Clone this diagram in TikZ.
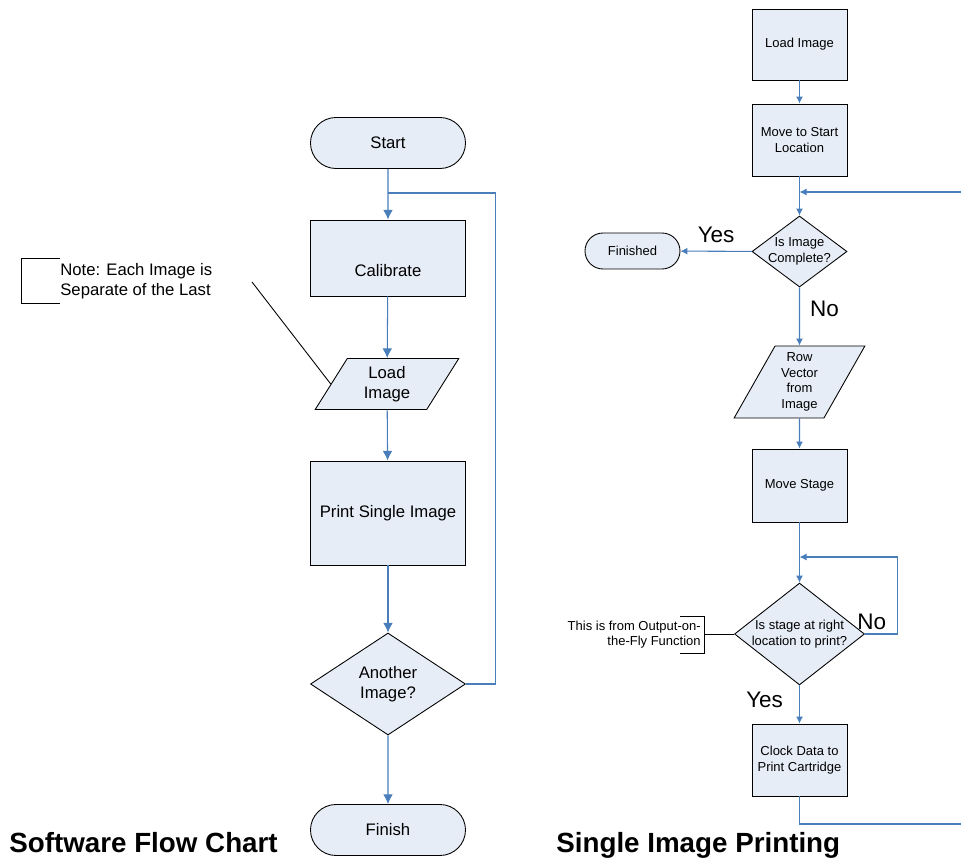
\documentclass[tikz,border=0pt]{standalone}
\usepackage{fontspec}
\setmainfont{Liberation Sans}
\usetikzlibrary{shapes.geometric,shapes.misc,arrows.meta,calc}

\definecolor{shapefill}{RGB}{231,237,247}
\definecolor{flowblue}{RGB}{74,126,187}

\newcommand{\mainsize}{\fontsize{9.5}{11.2}\selectfont}
\newcommand{\smallsize}{\fontsize{7.4}{8.8}\selectfont}
\newcommand{\answersize}{\fontsize{12.8}{14}\selectfont}
\newcommand{\titlesize}{\fontsize{15.8}{18}\selectfont\bfseries}

\begin{document}
\begin{tikzpicture}

\def\pix{0.02cm}

\tikzset{
        x=\pix, y=-\pix,
        every node/.style={font=\mainsize, align=center, inner sep=0pt},
        dims/.style 2 args={minimum width=#1*\pix, minimum height=#2*\pix},
        block/.style={draw, fill=shapefill, line width=.5pt},
        process/.style={block, rectangle},
        terminal/.style={block, rounded rectangle},
        decision/.style={block, diamond, inner sep=-3pt},
        io/.style={block, trapezium, trapezium left angle=62, trapezium right angle=118,
                trapezium stretches=true},
        small/.style={font=\smallsize},
        link/.style={draw=flowblue, line width=.6pt},
        flow/.style={link, -{Latex[length=#1,width=#1]}},
        flow/.default=5.5pt,
        bracket/.style={draw, line width=.5pt},
        answer/.style={font=\answersize},
        title/.style={font=\titlesize, anchor=base west}
}

\useasboundingbox (0,0) rectangle (961,858);

% main loop
\node[terminal, dims={155}{51}] (start) at (388,143) {Start};
\node[process, dims={155}{76}, text height=21.5pt] (calib) at (388,258) {Calibrate};
\node[io, dims={144}{51}] (load) at (387,384) {Load\\Image};
\node[process, dims={155}{104}] (print) at (388,513) {Print Single Image};
\node[decision, dims={155}{102}] (another) at (388,684) {Another\\Image?};
\node[terminal, dims={155}{51}] (finish) at (388,830) {Finish};

\coordinate (backin) at (388,193);

\draw[flow] (start) -- (calib);
\draw[flow] (calib) -- (load);
\draw[flow] (load) -- (print);
\draw[flow] (print) -- (another);
\draw[flow] (another) -- (finish);
\draw[link] (another.east) -- ++(30,0) |- (backin);

\node[anchor=west, align=left, dims={0}{44}] (note) at (60,281) {Note: Each Image is\\Separate of the Last};
\draw[bracket] (note.north west) -- ++(-39,0) |- (note.south west);
\coordinate (notetail) at (252,282);
\draw[bracket] (notetail) -- ($(load.bottom left corner)!.5!(load.top left corner)$);

% one image
\node[process, small, dims={95}{71}] (loadimg) at (799.5,44.5) {Load Image};
\node[process, small, dims={95}{72}] (movestart) at (799.5,140) {Move to Start\\Location};
\node[decision, small, dims={95}{71}] (complete) at (799.5,251.5) {Is Image\\Complete?};
\node[terminal, small, dims={95}{36}] (finished) at (632.5,251) {Finished};
\node[io, small, dims={131}{72}] (rowvec) at (799.5,382) {Row\\Vector\\from\\Image};
\node[process, small, dims={95}{73}] (movestage) at (799.5,485.5) {Move Stage};
\node[decision, small, dims={130}{98}] (stage) at (799.5,634) {Is stage at right\\location to print?};
\node[process, small, dims={95}{72}] (clock) at (799.5,760) {Clock Data to\\Print Cartridge};

\coordinate (rowloop) at (799.5,192);
\coordinate (rowedge) at (961,192);
\coordinate (stageloop) at (799.5,557);
\coordinate (outedge) at (961,824);

\draw[flow=4pt] (loadimg) -- (movestart);
\draw[flow=4pt] (movestart) -- (complete);
\draw[flow=4pt] (rowedge) -- (rowloop);
\draw[flow=4pt] (complete) -- node[answer, above=8*\pix] {Yes} (finished);
\draw[flow=4pt] (complete) -- node[answer, anchor=base west, xshift=10*\pix] {No} (rowvec);
\draw[flow=4pt] (rowvec) -- (movestage);
\draw[flow=4pt] (movestage) -- (stage);
\draw[flow=4pt] (stage.east) node[answer, anchor=base west, xshift=-8*\pix, yshift=5*\pix] {No}
        -- ++(33,0) |- (stageloop);
\draw[flow=4pt] (stage) -- node[answer, anchor=base east, xshift=-16*\pix, yshift=-3*\pix] {Yes} (clock);
\draw[link] (clock.south) |- (outedge);

\node[small, anchor=east, align=right] (flynote) at (701,634.5) {This is from Output-on-\\the-Fly Function};
\coordinate (flytip) at (704,634);
\draw[bracket] (680,616) -| (704,653) -- (680,653);
\draw[bracket] (flytip) -- (stage.west);

\node[title] (lefttitle) at (9,852) {Software Flow Chart};
\node[title] (righttitle) at (556,852) {Single Image Printing};

\end{tikzpicture}
\end{document}
